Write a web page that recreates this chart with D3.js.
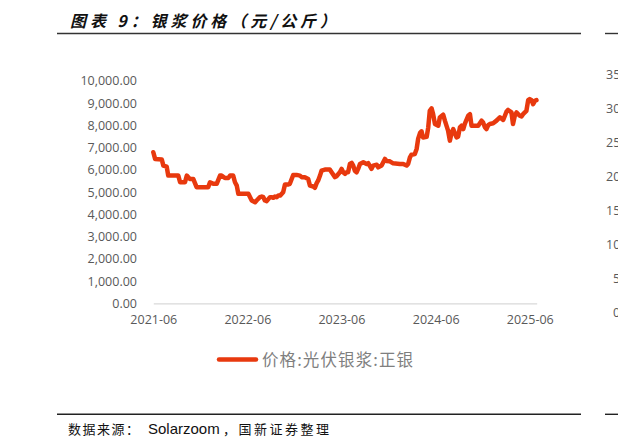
<!DOCTYPE html>
<html><head><meta charset="utf-8">
<script src="https://cdn.jsdelivr.net/npm/d3@7"></script>
<style>html,body{margin:0;padding:0;background:#fff;}svg{display:block;}</style>
</head><body>
<svg id="c" width="618" height="448"></svg>
<script>
const title = "图表 9：银浆价格（元/公斤）";
const sourceParts = ["数据来源：", "Solarzoom", "，国新证券整理"];
const seriesName = "价格:光伏银浆:正银";
const yTicks = [0,1000,2000,3000,4000,5000,6000,7000,8000,9000,10000];
const xTickLabels = ["2021-06","2022-06","2023-06","2024-06","2025-06"];
const rightTicks = [35,30,25,20,15,10,5,0];
const dates = [
"2021-06-01","2021-06-08","2021-07-04","2021-07-10","2021-07-23","2021-07-29","2021-09-06","2021-09-13","2021-10-02","2021-10-09",
"2021-10-21","2021-11-03","2021-11-16","2021-12-31","2022-01-07","2022-01-20","2022-02-02","2022-02-15","2022-02-21","2022-03-06",
"2022-03-19","2022-03-26","2022-04-07","2022-04-14","2022-04-21","2022-04-27","2022-06-05","2022-06-18","2022-07-01","2022-07-07",
"2022-07-20","2022-07-27","2022-08-02","2022-08-08","2022-08-15","2022-08-28","2022-09-03","2022-09-10","2022-09-16","2022-09-23",
"2022-09-29","2022-10-06","2022-10-18","2022-10-25","2022-11-07","2022-11-13","2022-11-26","2022-12-09","2022-12-22","2022-12-29",
"2023-01-10","2023-01-23","2023-01-30","2023-02-12","2023-02-18","2023-02-25","2023-03-03","2023-03-10","2023-03-16","2023-03-29",
"2023-04-17","2023-04-24","2023-05-07","2023-05-13","2023-05-26","2023-06-02","2023-06-08","2023-06-15","2023-06-21","2023-06-27",
"2023-07-04","2023-07-11","2023-07-17","2023-07-23","2023-07-30","2023-08-05",
"2023-08-12","2023-08-25","2023-09-07","2023-09-13","2023-09-26","2023-10-02","2023-10-16","2023-10-22","2023-11-04","2023-11-17",
"2023-11-23","2023-12-06","2023-12-19","2024-01-14","2024-01-27","2024-02-09","2024-02-15","2024-02-22","2024-02-28","2024-03-12",
"2024-03-19","2024-03-25","2024-04-01","2024-04-07","2024-04-13","2024-04-27","2024-05-03","2024-05-09","2024-05-16","2024-05-22",
"2024-05-29","2024-06-11","2024-06-17","2024-06-30","2024-07-07","2024-07-19","2024-07-26","2024-08-02","2024-08-08","2024-08-21",
"2024-08-27","2024-09-03","2024-09-09","2024-09-16","2024-09-22","2024-10-05","2024-10-12","2024-10-18","2024-10-24","2024-11-13",
"2024-11-26","2024-12-02","2024-12-09","2024-12-15","2024-12-22","2024-12-28","2025-01-10","2025-01-23","2025-02-05","2025-02-18",
"2025-03-03","2025-03-09","2025-03-22","2025-03-28","2025-04-04","2025-04-11","2025-04-17","2025-04-23","2025-04-30","2025-05-06",
"2025-05-13","2025-05-19","2025-05-26","2025-06-01","2025-06-08","2025-06-14","2025-06-21","2025-06-27"
];
const prices = [
6790,6490,6460,6190,6140,5740,5740,5440,5440,5740,
5590,5590,5220,5220,5440,5370,5370,5740,5740,5630,
5630,5740,5740,5440,5290,4920,4920,4620,4540,4620,
4770,4800,4770,4620,4590,4770,4770,4740,4800,4770,
4840,4840,4990,5340,5340,5370,5770,5770,5740,5670,
5670,5590,5290,5250,5190,5400,5520,5740,5960,6010,
6010,5890,5670,5710,5890,6040,5890,5820,5890,5890,
6260,6310,6190,5960,5890,6040,
6260,6340,6260,6300,6040,6190,6230,6110,6190,6490,
6400,6380,6290,6260,6260,6190,6260,6560,6680,6710,
6940,7400,7650,7730,7450,7480,7900,8650,8760,8500,
8060,7980,8350,8480,8200,7760,7310,7680,7830,7460,
7490,7910,7980,7830,8060,8430,8500,7980,7980,7980,
8210,8130,7910,7830,8010,8060,8090,8210,8360,8240,
8620,8690,8580,8060,8430,8580,8500,8430,8400,8500,
8580,8650,9130,9180,9130,8950,9100,9130
];

const parse = d3.timeParse("%Y-%m-%d");
const data = dates.map((d,i)=>({date:parse(d), value:prices[i]}));
const svg = d3.select("#c");
svg.append("rect").attr("width",618).attr("height",448).attr("fill","#fff");

const x = d3.scaleTime().domain([parse("2021-06-01"), parse("2025-06-28")]).range([153.3, 536.7]);
const y = d3.scaleLinear().domain([0,10000]).range([303.3, 80.8]);
const fmt = d3.format(",.2f");
const tickFont = "'Open Sans','Noto Sans',sans-serif";
const cjk = "'Noto Sans CJK SC',sans-serif";

// title
svg.append("text").attr("x",70).attr("y",27).text(title)
  .attr("font-family",cjk).attr("font-size",16)
  .attr("font-weight","bold").attr("font-style","italic").attr("fill","#111")
  .attr("textLength",266).attr("lengthAdjust","spacing");
svg.append("line").attr("x1",57).attr("x2",581).attr("y1",33.5).attr("y2",33.5).attr("stroke","#333").attr("stroke-width",1.4);
svg.append("line").attr("x1",605).attr("x2",618).attr("y1",33.5).attr("y2",33.5).attr("stroke","#333").attr("stroke-width",1.4);

// y axis
const yAxis = d3.axisLeft(y).tickValues(yTicks).tickFormat(fmt).tickSize(0).tickPadding(0);
const gy = svg.append("g").attr("transform","translate(137,0)").call(yAxis);
gy.select(".domain").remove();
gy.selectAll("text").attr("font-family",tickFont).attr("font-size",12.5).attr("fill","#595959");

// x axis
const xTickDates = xTickLabels.map(s=>parse(s+"-01"));
const xAxis = d3.axisBottom(x).tickValues(xTickDates).tickFormat(d3.timeFormat("%Y-%m")).tickSize(0).tickPadding(12);
const gx = svg.append("g").attr("transform","translate(0,303.3)").call(xAxis);
gx.select(".domain").attr("stroke","#d9d9d9").attr("stroke-width",1.2);
gx.selectAll("text").attr("font-family",tickFont).attr("font-size",12.5).attr("fill","#595959");

// line
const line = d3.line().x(d=>x(d.date)).y(d=>y(d.value)).curve(d3.curveLinear);
svg.append("path").datum(data).attr("d",line).attr("fill","none")
  .attr("stroke","#e8390e").attr("stroke-width",4.5).attr("stroke-linejoin","round").attr("stroke-linecap","round");

// legend
svg.append("line").attr("x1",219).attr("x2",256).attr("y1",359.5).attr("y2",359.5)
  .attr("stroke","#e8390e").attr("stroke-width",4.5).attr("stroke-linecap","round");
svg.append("text").attr("x",262).attr("y",366).text(seriesName)
  .attr("font-family",cjk).attr("font-size",16.5).attr("fill","#7f7f7f")
  .attr("textLength",151).attr("lengthAdjust","spacing");

// bottom line and source
svg.append("line").attr("x1",57).attr("x2",581).attr("y1",414.3).attr("y2",414.3).attr("stroke","#222").attr("stroke-width",1.4);
svg.append("line").attr("x1",605).attr("x2",618).attr("y1",414.3).attr("y2",414.3).attr("stroke","#222").attr("stroke-width",1.4);
const src = svg.append("text").attr("y",434).attr("fill","#111").attr("font-size",13);
src.append("tspan").attr("x",68).attr("font-family",cjk).attr("letter-spacing",1.5).text(sourceParts[0]);
src.append("tspan").attr("x",148).attr("font-family","'Liberation Sans',Arial,sans-serif").attr("font-size",15).text(sourceParts[1]);
src.append("tspan").attr("x",223).attr("font-family",cjk).attr("letter-spacing",2.5).text(sourceParts[2]);

// neighbouring chart fragment at right edge
const yR = d3.scaleLinear().domain([0,35]).range([312,74]);
const rAxis = d3.axisRight(yR).tickValues(rightTicks).tickSize(0).tickPadding(0);
const gr = svg.append("g").attr("transform","translate(606,0)").call(rAxis);
gr.select(".domain").remove();
gr.selectAll("text").attr("font-family",tickFont).attr("font-size",12.5).attr("fill","#595959")
  .attr("text-anchor","start").attr("dx",d=>d<10?7:0);
</script>
</body></html>
